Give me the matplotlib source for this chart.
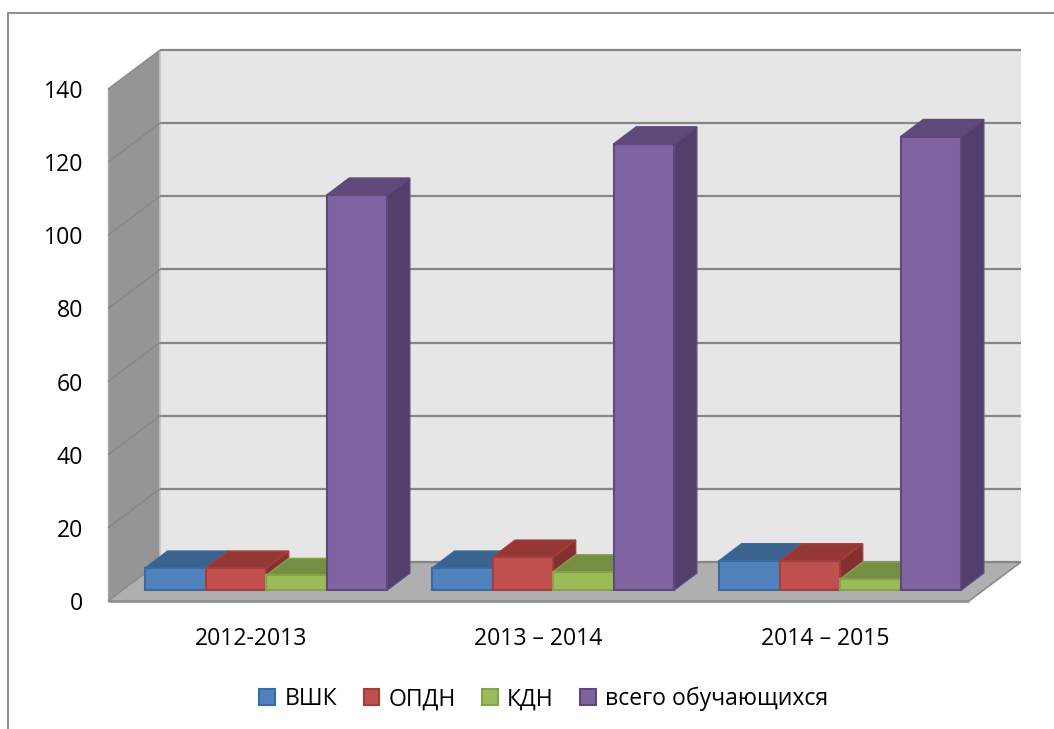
import matplotlib
matplotlib.use("Agg")
import matplotlib.pyplot as plt
from matplotlib.patches import Polygon, Rectangle
from matplotlib.transforms import IdentityTransform

plt.rcParams['font.family'] = ['Open Sans', 'DejaVu Sans']

categories = ['2012-2013', '2013 – 2014', '2014 – 2015']
series_names = ['ВШК', 'ОПДН', 'КДН', 'всего обучающихся']
vshk = [6, 6, 8]
opdn = [6, 9, 8]
kdn = [4, 5, 3]
total = [108, 122, 124]
y_ticks = [0, 20, 40, 60, 80, 100, 120, 140]

front_colors = ['#4F81BD', '#C0504D', '#9BBB59', '#8064A2']
top_colors = ['#3B6390', '#953735', '#748E43', '#604A7B']
side_colors = ['#345780', '#843030', '#667D3B', '#533F6B']
edge_colors = ['#3A6AA0', '#A23F3C', '#86A34A', '#5F497A']

W, H = 1054, 729
fig = plt.figure(figsize=(W / 100, H / 100), dpi=100, facecolor='white')
L, R, B, T = 108, 969, 601, 89
ax = fig.add_axes([L / W, 1 - B / H, (R - L) / W, (B - T) / H])
ax.set_xlim(0, 3)
ax.set_ylim(0, 140)
ax.patch.set_visible(False)
for s in ax.spines.values():
    s.set_visible(False)

# outer chart frame, running off the right and bottom edges
fig.add_artist(Rectangle((8 / W, -0.05), 1.1, 1 - 13 / H + 0.05, transform=fig.transFigure,
                         fill=False, ec='#868686', lw=1.3))

DX, DY = 52, 39          # full floor depth in pixels
BX0, BY0 = 14.7, 11      # bar front plane offset
BDX, BDY = 22.5, 17      # bar depth


def pt(x, v, dx=0, dy=0):
    px, py = ax.transData.transform((x, v))
    return (px + dx, py + dy)


def poly(points, fc, ec='none', lw=0, z=1):
    ax.add_patch(Polygon(points, closed=True, fc=fc, ec=ec, lw=lw, zorder=z,
                         transform=IdentityTransform(), clip_on=False, joinstyle='miter'))


def seg(p, q, color='#868686', lw=1.5, z=2):
    ax.plot([p[0], q[0]], [p[1], q[1]], color=color, lw=lw, zorder=z,
            transform=IdentityTransform(), clip_on=False, solid_capstyle='butt')


ymax = y_ticks[-1]
# back wall, side wall, floor
poly([pt(0, 0, DX, DY), pt(3, 0, DX, DY), pt(3, ymax, DX, DY), pt(0, ymax, DX, DY)], '#E6E6E6', z=1)
poly([pt(0, 0), pt(0, 0, DX, DY), pt(0, ymax, DX, DY), pt(0, ymax)], '#959595', z=1)
poly([pt(0, 0), pt(3, 0), pt(3, 0, DX, DY), pt(0, 0, DX, DY)], '#AFAFAF', z=1)
seg(pt(0, 0, DX, DY), pt(0, ymax, DX, DY), '#C4C4C4', 1.2, 1.5)
seg(pt(0, 0), pt(3, 0), '#8C8C8C', 1.8, 2)
seg(pt(3, 0), pt(3, 0, DX, DY), '#8C8C8C', 1.2, 2)
seg(pt(0, 0), pt(0, ymax), '#A8A8A8', 1.0, 2)

for v in y_ticks:
    seg(pt(0, v), pt(0, v, DX, DY), '#868686', 0.9, 2)
    seg(pt(0, v, DX, DY), pt(3, v, DX, DY), '#868686', 1.6, 2)

# bars
gap = 0.078
bw = (1 - 2 * gap) / 4
all_series = [vshk, opdn, kdn, total]
z = 3
for c in range(len(categories)):
    for s, vals in enumerate(all_series):
        x0 = c + gap + s * bw
        x1 = x0 + bw
        v = vals[c]
        ec = edge_colors[s]
        f = lambda x, val, dx=0, dy=0: pt(x, val, BX0 + dx, BY0 + dy)
        poly([f(x1, 0), f(x1, 0, BDX, BDY), f(x1, v, BDX, BDY), f(x1, v)], side_colors[s], ec, 1.0, z)
        poly([f(x0, v), f(x1, v), f(x1, v, BDX, BDY), f(x0, v, BDX, BDY)], top_colors[s], ec, 1.0, z)
        poly([f(x0, 0), f(x1, 0), f(x1, v), f(x0, v)], front_colors[s], ec, 1.5, z + 0.1)
        z += 0.2

FS = 16.6
ax.set_xticks([i + 0.5 for i in range(len(categories))], categories, fontsize=FS)
ax.set_yticks(y_ticks, [str(v) for v in y_ticks], fontsize=FS)
ax.tick_params(axis='y', length=0, pad=18)
ax.tick_params(axis='x', length=0, pad=19)

handles = [Rectangle((0, 0), 1, 1, fc=front_colors[i], ec=edge_colors[i], lw=1.5) for i in range(4)]
fig.legend(handles, series_names, loc='center', bbox_to_anchor=(544 / W, 1 - 699 / H), ncol=4,
           frameon=False, fontsize=FS, handlelength=0.66, handleheight=0.66,
           handletextpad=0.42, columnspacing=1.15, borderpad=0, borderaxespad=0)

fig.savefig('out.png', dpi=100)
